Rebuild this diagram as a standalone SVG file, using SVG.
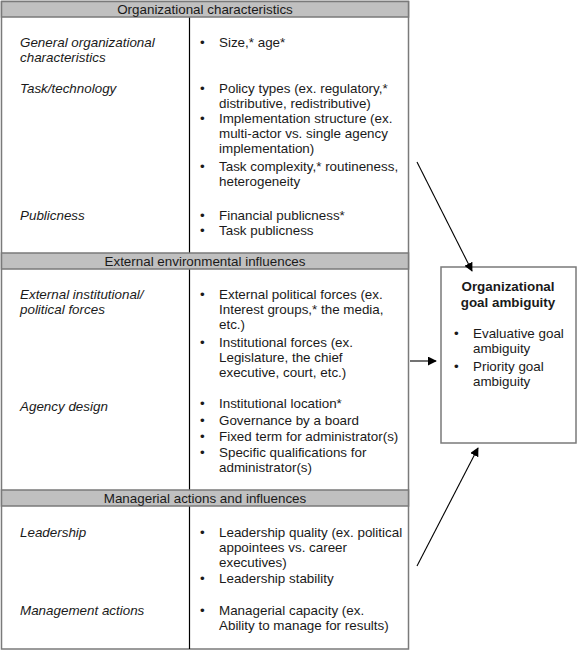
<svg xmlns="http://www.w3.org/2000/svg" width="578" height="651" viewBox="0 0 578 651">
<style>
text{font-family:"Liberation Sans",Arial,sans-serif;font-size:13.4px;fill:#1a1a1a}
.h{text-anchor:middle}
.i{font-style:italic}
.b{font-weight:bold}
.hdr{fill:#c0c0c0;stroke:#7a7a7a;stroke-width:1.5}
.frame{fill:#fff;stroke:#7a7a7a;stroke-width:1.5}
.div{stroke:#000;stroke-width:1.2}
.con{stroke:#000;stroke-width:1.1;fill:none;marker-end:url(#ah)}
</style>
<defs>
<marker id="ah" viewBox="0 0 10 10" refX="9" refY="5" markerWidth="9" markerHeight="9" markerUnits="userSpaceOnUse" orient="auto">
<path d="M0,0 L10,5 L0,10 z" fill="#000"/>
</marker>
</defs>
<g id="table">
<rect class="frame" x="1.5" y="1.5" width="407" height="647.5"/>
<line class="div" x1="189.5" y1="17" x2="189.5" y2="253"/>
<line class="div" x1="189.5" y1="269" x2="189.5" y2="490"/>
<line class="div" x1="189.5" y1="506" x2="189.5" y2="649"/>
</g>
<g id="section1">
<rect class="hdr" x="1.5" y="1.5" width="407" height="15.5"/>
<text class="h" x="205" y="14">Organizational characteristics</text>
<text class="i" x="20" y="47">General organizational</text>
<text class="i" x="20" y="62">characteristics</text>
<text x="200" y="47">•</text><text x="219" y="47">Size,* age*</text>
<text class="i" x="20" y="93">Task/technology</text>
<text x="200" y="93">•</text><text x="219" y="93">Policy types (ex. regulatory,*</text>
<text x="219" y="108">distributive, redistributive)</text>
<text x="200" y="123">•</text><text x="219" y="123">Implementation structure (ex.</text>
<text x="219" y="138">multi-actor vs. single agency</text>
<text x="219" y="153">implementation)</text>
<text x="200" y="171">•</text><text x="219" y="171">Task complexity,* routineness,</text>
<text x="219" y="186">heterogeneity</text>
<text class="i" x="20" y="220">Publicness</text>
<text x="200" y="220">•</text><text x="219" y="220">Financial publicness*</text>
<text x="200" y="235">•</text><text x="219" y="235">Task publicness</text>
</g>
<g id="section2">
<rect class="hdr" x="1.5" y="253" width="407" height="16"/>
<text class="h" x="205" y="266">External environmental influences</text>
<text class="i" x="20" y="299">External institutional/</text>
<text class="i" x="20" y="314">political forces</text>
<text x="200" y="299">•</text><text x="219" y="299">External political forces (ex.</text>
<text x="219" y="314">Interest groups,* the media,</text>
<text x="219" y="329">etc.)</text>
<text x="200" y="347">•</text><text x="219" y="347">Institutional forces (ex.</text>
<text x="219" y="362">Legislature, the chief</text>
<text x="219" y="377">executive, court, etc.)</text>
<text class="i" x="20" y="411">Agency design</text>
<text x="200" y="408">•</text><text x="219" y="408">Institutional location*</text>
<text x="200" y="425">•</text><text x="219" y="425">Governance by a board</text>
<text x="200" y="441">•</text><text x="219" y="441">Fixed term for administrator(s)</text>
<text x="200" y="457">•</text><text x="219" y="457">Specific qualifications for</text>
<text x="219" y="472">administrator(s)</text>
</g>
<g id="section3">
<rect class="hdr" x="1.5" y="490" width="407" height="16"/>
<text class="h" x="205" y="503">Managerial actions and influences</text>
<text class="i" x="20" y="537">Leadership</text>
<text x="200" y="537">•</text><text x="219" y="537">Leadership quality (ex. political</text>
<text x="219" y="552">appointees vs. career</text>
<text x="219" y="567">executives)</text>
<text x="200" y="583">•</text><text x="219" y="583">Leadership stability</text>
<text class="i" x="20" y="615">Management actions</text>
<text x="200" y="615">•</text><text x="219" y="615">Managerial capacity (ex.</text>
<text x="219" y="630">Ability to manage for results)</text>
</g>
<g id="goal">
<rect class="frame" x="441" y="267" width="135" height="176"/>
<text class="h b" x="508" y="291">Organizational</text>
<text class="h b" x="508" y="307">goal ambiguity</text>
<text x="454" y="338">•</text><text x="473" y="338">Evaluative goal</text>
<text x="473" y="353">ambiguity</text>
<text x="454" y="371">•</text><text x="473" y="371">Priority goal</text>
<text x="473" y="386">ambiguity</text>
</g>
<g id="connectors">
<line class="con" x1="417" y1="162" x2="472" y2="271"/>
<line class="con" x1="410" y1="361" x2="436" y2="361"/>
<line class="con" x1="417" y1="566" x2="478" y2="448"/>
</g>
</svg>
